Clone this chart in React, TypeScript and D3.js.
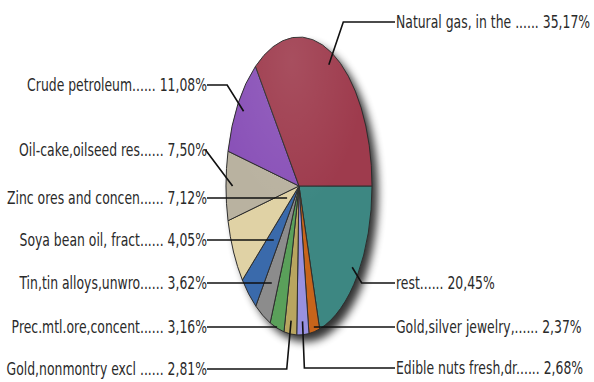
import React from "react";
import * as d3 from "d3";

// Slices in clockwise order starting at 3 o'clock
const names = [
  "rest",
  "Gold,silver jewelry,",
  "Edible nuts fresh,dr",
  "Gold,nonmontry excl ",
  "Prec.mtl.ore,concent",
  "Tin,tin alloys,unwro",
  "Soya bean oil, fract",
  "Zinc ores and concen",
  "Oil-cake,oilseed res",
  "Crude petroleum",
  "Natural gas, in the ",
];
const values = [20.45, 2.37, 2.68, 2.81, 3.16, 3.62, 4.05, 7.12, 7.5, 11.08, 35.17];
const colors = [
  "#3d8782",
  "#c8641a",
  "#9891e0",
  "#b8a55f",
  "#5aa05a",
  "#8c8c8c",
  "#3a6aab",
  "#e0d2a5",
  "#b9b2a0",
  "#8a52b8",
  "#9e3b4d",
];

// label layout (side, vertical position)
const labelSide = ["right", "right", "right", "left", "left", "left", "left", "left", "left", "left", "right"];
const labelY = [283, 327, 368, 369, 327, 283, 240, 198, 150, 85, 22];

const fmt = (v: number) => v.toFixed(2).replace(".", ",") + "%";

export default function App() {
  const W = 594, H = 382;
  const cx = 299, cy = 186, ry = 149, rx = 73;
  const k = rx / ry;
  const pie = d3
    .pie<number>()
    .sort(null)
    .value((d) => d)
    .startAngle(Math.PI / 2)
    .endAngle(Math.PI / 2 + 2 * Math.PI);
  const arcs = pie(values);
  const arc = d3.arc<any>().innerRadius(0).outerRadius(ry);
  const pt = (a: number, t: number): [number, number] => [
    cx + Math.sin(a) * t * ry * k,
    cy - Math.cos(a) * t * ry,
  ];
  const sx = 0.69;
  const leftX = 207, rightX = 395;

  return (
    <svg width={W} height={H} style={{ position: "absolute", left: 0, top: 0, background: "#fff" }}>
      <defs>
        <filter id="sh" x="-50%" y="-50%" width="200%" height="200%">
          <feGaussianBlur stdDeviation="4" />
        </filter>
        <radialGradient id="hl" cx="0.45" cy="0.08" r="0.5">
          <stop offset="0" stopColor="#fff" stopOpacity="0.1" />
          <stop offset="1" stopColor="#fff" stopOpacity="0" />
        </radialGradient>
      </defs>
      <ellipse cx={cx + 6} cy={cy + 7} rx={rx} ry={ry} fill="#000" opacity={0.8} filter="url(#sh)" />
      <g transform={`translate(${cx},${cy}) scale(${k},1)`}>
        {arcs.map((a, i) => (
          <path
            key={i}
            d={arc(a) as string}
            fill={colors[i]}
            stroke="#2e2e2e"
            strokeWidth={1}
            vectorEffect="non-scaling-stroke"
          />
        ))}
        <circle r={ry} fill="url(#hl)" />
      </g>
      {arcs.map((a, i) => {
        const mid = (a.startAngle + a.endAngle) / 2;
        const ly = labelY[i];
        const left = labelSide[i] === "left";
        const lx = left ? leftX : rightX;
        const c = -Math.cos(mid);
        const t = Math.abs(c) > 1e-3 ? (ly - cy) / (c * ry) : -1;
        let d: string;
        if (t > 0 && t <= 1) {
          const [ax, ay] = pt(mid, t);
          d = `M${lx},${ly}L${ax},${ay}`;
        } else {
          const [ax, ay] = pt(mid, 0.91);
          const ex = ax + Math.sin(mid) * Math.abs(ly - ay) * 0.75;
          d = `M${ax},${ay}L${ex},${ly}L${lx},${ly}`;
        }
        return <path key={"l" + i} d={d} fill="none" stroke="#111" strokeWidth={1.6} />;
      })}
      {arcs.map((a, i) => {
        const left = labelSide[i] === "left";
        const lx = left ? leftX : rightX + 1;
        return (
          <text
            key={"t" + i}
            transform={`translate(${lx},${labelY[i]}) scale(${sx},1)`}
            textAnchor={left ? "end" : "start"}
            dominantBaseline="central"
            fontFamily="'DejaVu Sans', Verdana, sans-serif"
            fontSize={18}
            fill="#2a2a2a"
            style={{ whiteSpace: "pre" }}
          >
            {names[i] + "...... " + fmt(values[i])}
          </text>
        );
      })}
    </svg>
  );
}
